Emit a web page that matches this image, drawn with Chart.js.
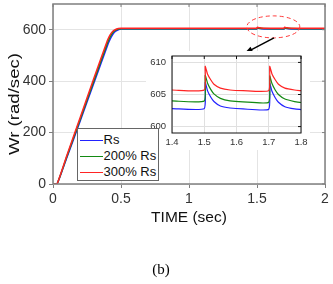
<!DOCTYPE html>
<html lang="en">
<head>
  <meta charset="UTF-8">
  <title>Wr vs TIME</title>
  <script src="https://cdn.jsdelivr.net/npm/chart.js"></script>
  <style>
    body {
      margin: 0;
      background: #fff;
      font-family: "Liberation Sans", Arial, sans-serif;
      overflow: hidden;
    }
    .wrap {
      position: relative;
      width: 333px;
      height: 284px;
    }
    .main-box {
      position: absolute;
      left: 0;
      top: 0;
      width: 333px;
      height: 284px;
    }
    .inset-box {
      position: absolute;
      left: 146px;
      top: 51px;
      width: 164px;
      height: 99px;
    }
    .ytitle {
      position: absolute;
      left: -46.5px;
      top: 94px;
      width: 120px;
      height: 20px;
      line-height: 20px;
      text-align: center;
      font-size: 15.5px;
      color: #111;
      white-space: nowrap;
      transform: rotate(-90deg) scaleX(1.2);
    }
    .legend {
      position: absolute;
      left: 77px;
      top: 128px;
      width: 82px;
      height: 53px;
      box-sizing: border-box;
      border: 1.5px solid #666;
      background: #fff;
    }
    .legend .row {
      position: absolute;
      left: 0;
      height: 16px;
      width: 80px;
    }
    .legend .swatch {
      position: absolute;
      left: 1.5px;
      top: 7.5px;
      width: 23px;
      height: 1.5px;
    }
    .legend .label {
      position: absolute;
      left: 25.5px;
      top: 0;
      line-height: 16px;
      font-size: 13px;
      color: #111;
      white-space: nowrap;
    }
    .caption {
      position: absolute;
      left: 0;
      top: 260px;
      width: 322px;
      text-align: center;
      font-family: "Liberation Serif", "Times New Roman", serif;
      font-size: 15px;
      line-height: 18px;
      color: #000;
    }
  </style>
</head>
<body>
  <div class="wrap">
    <div class="main-box"><canvas id="mainChart"></canvas></div>
    <div class="ytitle">Wr (rad/sec)</div>
    <div class="inset-box"><canvas id="insetChart"></canvas></div>
    <div class="legend" id="legend"></div>
    <div class="caption">(b)</div>
  </div>

  <script>
    // series names and colours
    const seriesNames = ['Rs', '200% Rs', '300% Rs'];
    const seriesColors = ['#2222ff', '#138a13', '#ff2424'];

    // main plot: time (sec) and Wr (rad/sec)
    const timeMain = [0, 0.03, 0.1, 0.2, 0.3, 0.4, 0.42, 0.44, 0.46, 0.48, 0.5, 0.55, 0.6, 1.0,
      1.5, 1.503, 1.52, 1.55, 1.6, 1.7, 1.703, 1.72, 1.75, 1.8, 2.0];
    const wrRs = [0, 0, 100, 245, 392, 538, 563, 582, 594, 600, 602.5, 603, 603, 602.8,
      602.8, 606.9, 604.6, 603.2, 602.8, 602.7, 606.8, 604.5, 603.1, 602.7, 602.6];
    const wr200 = [0, 0, 104, 252, 401, 548, 572, 589, 598, 602.5, 603.8, 604.2, 604.1, 604,
      604, 608, 605.8, 604.4, 603.9, 603.8, 607.9, 605.7, 604.3, 603.8, 603.7];
    const wr300 = [0, 0, 108, 259, 410, 558, 580, 594, 601, 604.5, 605.6, 606, 605.9, 605.8,
      605.7, 609.4, 607.3, 606, 605.7, 605.6, 609.4, 607.3, 606, 605.6, 605.5];
    const xTicksMain = [0, 0.5, 1, 1.5, 2];
    const yTicksMain = [0, 200, 400, 600];

    // zoomed inset, 1.4 .. 1.8 sec
    const timeInset = [1.4, 1.5, 1.503, 1.51, 1.52, 1.53, 1.55, 1.58, 1.62, 1.7,
      1.703, 1.71, 1.72, 1.73, 1.75, 1.78, 1.8];
    const insetRs = [602.8, 602.8, 606.9, 605.6, 604.6, 603.9, 603.2, 602.9, 602.75, 602.7,
      606.8, 605.5, 604.5, 603.8, 603.1, 602.75, 602.65];
    const inset200 = [604, 604, 608, 606.8, 605.8, 605.1, 604.4, 604, 603.85, 603.8,
      607.9, 606.7, 605.7, 605, 604.3, 603.9, 603.75];
    const inset300 = [605.7, 605.7, 609.4, 608.2, 607.3, 606.6, 606, 605.7, 605.6, 605.6,
      609.4, 608.2, 607.3, 606.6, 606, 605.7, 605.6];
    const xTicksInset = [1.4, 1.5, 1.6, 1.7, 1.8];
    const yTicksInset = [600, 605, 610];

    const FONT = '"Liberation Sans", Arial, sans-serif';

    function toPoints(xs, ys) {
      return xs.map((x, i) => ({ x: x, y: ys[i] }));
    }

    // red drawn last (on top), blue first
    function makeDatasets(xs, seriesList, width) {
      return seriesList.map((ys, i) => ({
        label: seriesNames[i],
        data: toPoints(xs, ys),
        borderColor: seriesColors[i],
        borderWidth: width,
        pointRadius: 0,
        showLine: true,
        fill: false,
        tension: 0.15,
        order: seriesList.length - i
      }));
    }

    function fixTicks(list) {
      return scale => { scale.ticks = list.map(v => ({ value: v })); };
    }

    function fixSize(prop, size) {
      return scale => {
        scale[prop] = size;
        scale.paddingLeft = 0;
        scale.paddingRight = 0;
        scale.paddingTop = 0;
        scale.paddingBottom = 0;
      };
    }

    // box around plot area with MATLAB style inner ticks
    function boxPlugin(color, width, innerTicks) {
      return {
        id: 'box',
        afterDatasetsDraw(chart) {
          const { ctx, chartArea: a, scales } = chart;
          ctx.save();
          ctx.strokeStyle = color;
          ctx.lineWidth = width;
          ctx.strokeRect(a.left, a.top, a.right - a.left, a.bottom - a.top);
          if (innerTicks) {
            ctx.lineWidth = 1;
            ctx.beginPath();
            scales.y.ticks.forEach(t => {
              const y = scales.y.getPixelForValue(t.value);
              ctx.moveTo(a.right, y);
              ctx.lineTo(a.right - 3, y);
            });
            scales.x.ticks.forEach(t => {
              const x = scales.x.getPixelForValue(t.value);
              ctx.moveTo(x, a.top);
              ctx.lineTo(x, a.top + 3);
            });
            ctx.stroke();
          }
          ctx.restore();
        }
      };
    }

    // dashed ellipse over the zoomed region and arrow to the inset
    const markPlugin = {
      id: 'mark',
      afterDraw(chart) {
        const { ctx, scales } = chart;
        const cx = scales.x.getPixelForValue(1.62);
        const cy = scales.y.getPixelForValue(611);
        ctx.save();
        ctx.strokeStyle = '#ff3a3a';
        ctx.lineWidth = 1;
        ctx.setLineDash([4, 3]);
        ctx.beginPath();
        ctx.ellipse(cx, cy, 26.5, 11, 0, 0, Math.PI * 2);
        ctx.stroke();
        ctx.setLineDash([]);

        const x0 = scales.x.getPixelForValue(1.625);
        const y0 = scales.y.getPixelForValue(568);
        const x1 = scales.x.getPixelForValue(1.41);
        const y1 = scales.y.getPixelForValue(509);
        const ang = Math.atan2(y1 - y0, x1 - x0);
        ctx.strokeStyle = '#000';
        ctx.fillStyle = '#000';
        ctx.lineWidth = 1.5;
        ctx.beginPath();
        ctx.moveTo(x0, y0);
        ctx.lineTo(x1 - 5 * Math.cos(ang), y1 - 5 * Math.sin(ang));
        ctx.stroke();
        ctx.beginPath();
        ctx.moveTo(x1, y1);
        ctx.lineTo(x1 - 8 * Math.cos(ang) + 3 * Math.sin(ang), y1 - 8 * Math.sin(ang) - 3 * Math.cos(ang));
        ctx.lineTo(x1 - 8 * Math.cos(ang) - 3 * Math.sin(ang), y1 - 8 * Math.sin(ang) + 3 * Math.cos(ang));
        ctx.closePath();
        ctx.fill();
        ctx.restore();
      }
    };

    const whiteBg = {
      id: 'whiteBg',
      beforeDraw(chart) {
        const { ctx, width, height } = chart;
        ctx.save();
        ctx.fillStyle = '#fff';
        ctx.fillRect(0, 0, width, height);
        ctx.restore();
      }
    };

    // main chart
    new Chart(document.getElementById('mainChart'), {
      type: 'scatter',
      data: { datasets: makeDatasets(timeMain, [wrRs, wr200, wr300], 1.5) },
      options: {
        responsive: true,
        maintainAspectRatio: false,
        animation: false,
        layout: { padding: { left: 0, top: 4, right: 8, bottom: 57 } },
        plugins: { legend: { display: false }, tooltip: { enabled: false } },
        scales: {
          x: {
            type: 'linear',
            min: 0,
            max: 2,
            afterBuildTicks: fixTicks(xTicksMain),
            afterFit: fixSize('height', 43),
            grid: { color: '#e4e4e4', tickColor: '#7f7f7f', tickLength: 4 },
            border: { display: false },
            ticks: {
              padding: 3,
              maxRotation: 0,
              color: '#333',
              font: { family: FONT, size: 14 },
              callback: v => String(v)
            },
            title: {
              display: true,
              text: 'TIME (sec)',
              color: '#111',
              font: { family: FONT, size: 15.5 },
              padding: { top: 0, bottom: 0 }
            }
          },
          y: {
            min: 0,
            max: 700,
            afterBuildTicks: fixTicks(yTicksMain),
            afterFit: fixSize('width', 53),
            grid: { color: '#e4e4e4', tickColor: '#7f7f7f', tickLength: 4 },
            border: { display: false },
            ticks: {
              padding: 3,
              color: '#333',
              font: { family: FONT, size: 14 }
            }
          }
        }
      },
      plugins: [boxPlugin('#7f7f7f', 1.5, true), markPlugin]
    });

    // inset chart
    new Chart(document.getElementById('insetChart'), {
      type: 'scatter',
      data: { datasets: makeDatasets(timeInset, [insetRs, inset200, inset300], 1.2) },
      options: {
        responsive: true,
        maintainAspectRatio: false,
        animation: false,
        layout: { padding: { left: 0, top: 5, right: 9, bottom: 0 } },
        plugins: { legend: { display: false }, tooltip: { enabled: false } },
        scales: {
          x: {
            type: 'linear',
            min: 1.4,
            max: 1.8,
            afterBuildTicks: fixTicks(xTicksInset),
            afterFit: fixSize('height', 17),
            grid: { color: '#e0e0e0', drawTicks: false },
            border: { display: false },
            ticks: {
              padding: 4,
              maxRotation: 0,
              color: '#333',
              font: { family: FONT, size: 9.5 },
              callback: v => v.toFixed(1)
            }
          },
          y: {
            min: 599,
            max: 611,
            afterBuildTicks: fixTicks(yTicksInset),
            afterFit: fixSize('width', 26),
            grid: { color: '#e0e0e0', drawTicks: false },
            border: { display: false },
            ticks: {
              padding: 6,
              color: '#333',
              font: { family: FONT, size: 9.5 }
            }
          }
        }
      },
      plugins: [whiteBg, boxPlugin('#111', 1, true)]
    });

    // legend drawn as html, inside the main plot
    const legendDiv = document.getElementById('legend');
    seriesNames.forEach((name, i) => {
      const row = document.createElement('div');
      row.className = 'row';
      row.style.top = (3.2 + 16 * i) + 'px';
      const sw = document.createElement('div');
      sw.className = 'swatch';
      sw.style.background = seriesColors[i];
      const lab = document.createElement('div');
      lab.className = 'label';
      lab.textContent = name;
      row.appendChild(sw);
      row.appendChild(lab);
      legendDiv.appendChild(row);
    });
  </script>
</body>
</html>
